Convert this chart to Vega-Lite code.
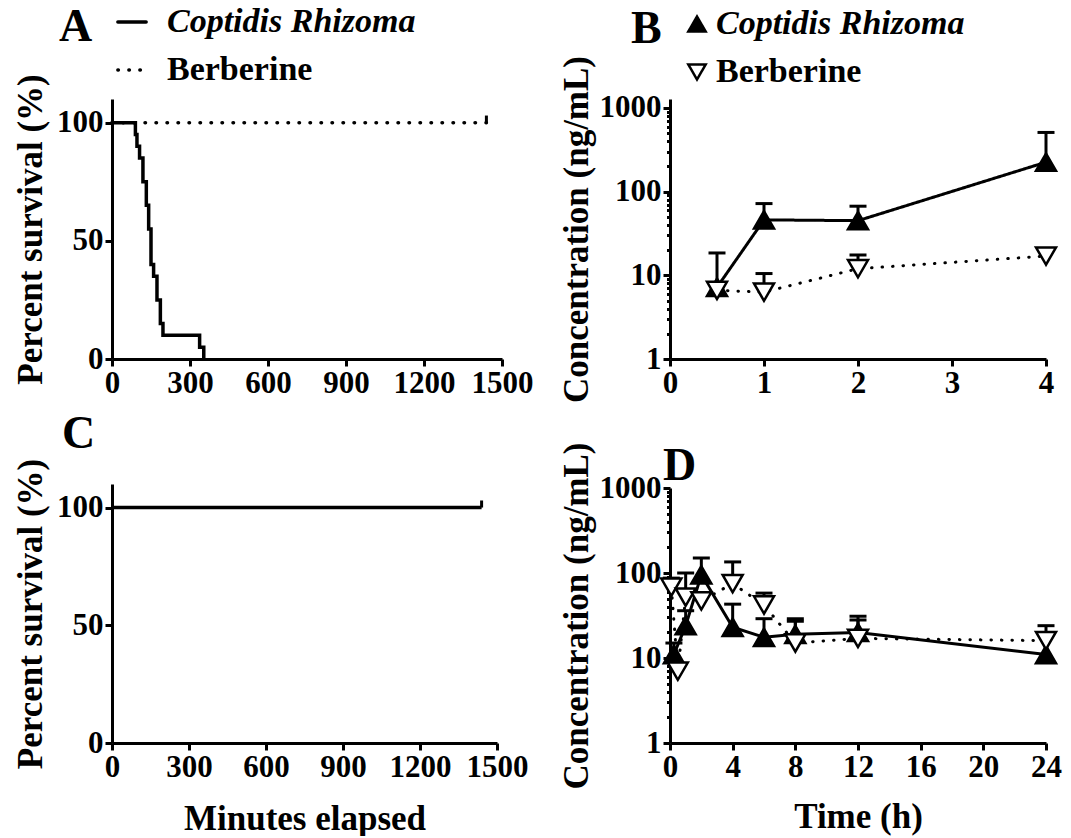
{
  "$schema": "https://vega.github.io/schema/vega-lite/v6.json",
  "background": "white",
  "padding": {"left": 13, "top": 5, "right": 5, "bottom": 0},
  "config": {
    "font": "Liberation Serif",
    "view": {"stroke": null},
    "axis": {
      "domainWidth": 3, "domainColor": "black", "tickWidth": 3, "tickColor": "black", "tickSize": 7,
      "labelColor": "black", "titleColor": "black", "labelFont": "Liberation Serif", "titleFont": "Liberation Serif",
      "labelFontWeight": "bold", "titleFontWeight": "bold", "labelFontSize": 31, "titleFontSize": 35,
      "grid": false, "labelPadding": 2, "titlePadding": 8, "labelFlush": false, "labelOverlap": false, "format": "d"
    },
    "legend": {
      "titleFont": "Liberation Serif", "titleFontWeight": "bold", "titleFontSize": 46, "titleColor": "black",
      "labelFont": "Liberation Serif", "labelFontWeight": "bold", "labelFontSize": 34, "labelColor": "black",
      "labelLimit": 500
    },
    "title": {"font": "Liberation Serif", "fontWeight": "bold", "fontSize": 46, "color": "black"}
  },
  "datasets": {
    "survA": [
      {"series": "Coptidis Rhizoma", "t": 0, "s": 100},
      {"series": "Coptidis Rhizoma", "t": 90, "s": 95},
      {"series": "Coptidis Rhizoma", "t": 96, "s": 90},
      {"series": "Coptidis Rhizoma", "t": 106, "s": 85},
      {"series": "Coptidis Rhizoma", "t": 119, "s": 75},
      {"series": "Coptidis Rhizoma", "t": 132, "s": 65},
      {"series": "Coptidis Rhizoma", "t": 141, "s": 55},
      {"series": "Coptidis Rhizoma", "t": 150, "s": 40},
      {"series": "Coptidis Rhizoma", "t": 160, "s": 35},
      {"series": "Coptidis Rhizoma", "t": 173, "s": 25},
      {"series": "Coptidis Rhizoma", "t": 186, "s": 15},
      {"series": "Coptidis Rhizoma", "t": 196, "s": 10},
      {"series": "Coptidis Rhizoma", "t": 337, "s": 5},
      {"series": "Coptidis Rhizoma", "t": 353, "s": 0},
      {"series": "Berberine", "t": 0, "s": 100},
      {"series": "Berberine", "t": 1440, "s": 100}
    ],
    "censorA": [{"series": "Berberine", "t": 1440, "s": 100, "s2": 103}],
    "survC": [{"t": 0, "s": 100}, {"t": 1440, "s": 100}],
    "censorC": [{"t": 1440, "s": 100, "s2": 103}],
    "pkB": [
      {"series": "Coptidis Rhizoma", "t": 0.5, "c": 7.2, "up": 18.5},
      {"series": "Coptidis Rhizoma", "t": 1, "c": 46, "up": 72},
      {"series": "Coptidis Rhizoma", "t": 2, "c": 45, "up": 67},
      {"series": "Coptidis Rhizoma", "t": 4, "c": 225, "up": 510},
      {"series": "Berberine", "t": 0.5, "c": 6.6, "up": null},
      {"series": "Berberine", "t": 1, "c": 6.3, "up": 10.5},
      {"series": "Berberine", "t": 2, "c": 12, "up": 17.5},
      {"series": "Berberine", "t": 4, "c": 17, "up": null}
    ],
    "pkD": [
      {"series": "Coptidis Rhizoma", "t": 0.25, "c": 11, "up": 15},
      {"series": "Coptidis Rhizoma", "t": 1, "c": 24, "up": 36},
      {"series": "Coptidis Rhizoma", "t": 2, "c": 95, "up": 150},
      {"series": "Coptidis Rhizoma", "t": 4, "c": 23, "up": 43},
      {"series": "Coptidis Rhizoma", "t": 6, "c": 17.5, "up": 29},
      {"series": "Coptidis Rhizoma", "t": 8, "c": 19, "up": 29},
      {"series": "Coptidis Rhizoma", "t": 12, "c": 20, "up": 31},
      {"series": "Coptidis Rhizoma", "t": 24, "c": 11, "up": null},
      {"series": "Berberine", "t": 0.083, "c": 68, "up": 87},
      {"series": "Berberine", "t": 0.5, "c": 7, "up": null},
      {"series": "Berberine", "t": 1, "c": 52, "up": 100},
      {"series": "Berberine", "t": 2, "c": 47, "up": null},
      {"series": "Berberine", "t": 4, "c": 75, "up": 135},
      {"series": "Berberine", "t": 6, "c": 42, "up": 58},
      {"series": "Berberine", "t": 8, "c": 15, "up": 27},
      {"series": "Berberine", "t": 12, "c": 17, "up": 28},
      {"series": "Berberine", "t": 24, "c": 16, "up": 24}
    ]
  },
  "spacing": 25,
  "resolve": {
    "scale": {"strokeDash": "independent"},
    "legend": {"strokeDash": "independent"}
  },
  "hconcat": [
    {
      "spacing": 13,
      "resolve": {"scale": {"strokeDash": "independent"}, "legend": {"strokeDash": "independent"}},
      "vconcat": [
        {
          "width": 390, "height": 260,
          "layer": [
            {
              "data": {"name": "survA"},
              "mark": {"type": "line", "interpolate": "step-after", "strokeWidth": 3.5, "color": "black", "strokeCap": "round"},
              "encoding": {
                "x": {"field": "t", "type": "quantitative", "scale": {"domain": [0, 1500], "nice": false}, "axis": {"values": [0, 300, 600, 900, 1200, 1500], "title": null}},
                "y": {"field": "s", "type": "quantitative", "scale": {"domain": [0, 110], "nice": false}, "axis": {"values": [0, 50, 100], "title": "Percent survival (%)"}},
                "strokeDash": {
                  "field": "series", "type": "nominal",
                  "scale": {"domain": ["Coptidis Rhizoma", "Berberine"], "range": [[1, 0], [0.5, 10.5]]},
                  "legend": {
                    "title": "A", "titleOrient": "left", "titleAnchor": "start", "titlePadding": 22,
                    "orient": "none", "legendX": -53, "legendY": -94, "direction": "vertical",
                    "symbolType": "stroke", "symbolSize": 800, "symbolStrokeWidth": 3.5, "symbolStrokeColor": "black",
                    "rowPadding": 14, "labelOffset": 18,
                    "encode": {
                      "labels": {"update": {"fontStyle": {"signal": "datum.label == 'Coptidis Rhizoma' ? 'italic' : 'normal'"}}},
                      "symbols": {"update": {"strokeCap": {"value": "round"}}}
                    }
                  }
                }
              }
            },
            {
              "data": {"name": "censorA"},
              "mark": {"type": "rule", "strokeWidth": 3, "color": "black"},
              "encoding": {
                "x": {"field": "t", "type": "quantitative", "scale": {"domain": [0, 1500], "nice": false}},
                "y": {"field": "s", "type": "quantitative", "scale": {"domain": [0, 110], "nice": false}},
                "y2": {"field": "s2"}
              }
            }
          ]
        },
        {
          "width": 385, "height": 259,
          "title": {"text": "C", "anchor": "start", "frame": "group", "dx": -50, "offset": 0},
          "layer": [
            {
              "data": {"name": "survC"},
              "mark": {"type": "line", "strokeWidth": 3.5, "color": "black"},
              "encoding": {
                "x": {"field": "t", "type": "quantitative", "scale": {"domain": [0, 1500], "nice": false}, "axis": {"values": [0, 300, 600, 900, 1200, 1500], "title": "Minutes elapsed", "titlePadding": 19}},
                "y": {"field": "s", "type": "quantitative", "scale": {"domain": [0, 110], "nice": false}, "axis": {"values": [0, 50, 100], "title": "Percent survival (%)"}}
              }
            },
            {
              "data": {"name": "censorC"},
              "mark": {"type": "rule", "strokeWidth": 3, "color": "black"},
              "encoding": {
                "x": {"field": "t", "type": "quantitative", "scale": {"domain": [0, 1500], "nice": false}},
                "y": {"field": "s", "type": "quantitative", "scale": {"domain": [0, 110], "nice": false}},
                "y2": {"field": "s2"}
              }
            }
          ]
        }
      ]
    },
    {
      "spacing": 38,
      "resolve": {"scale": {"strokeDash": "independent"}, "legend": {"strokeDash": "independent"}},
      "vconcat": [
        {
          "width": 376, "height": 260,
          "data": {"name": "pkB"},
          "layer": [
            {
              "transform": [{"filter": "isValid(datum.up)"}],
              "mark": {"type": "rule", "strokeWidth": 3, "color": "black"},
              "encoding": {
                "x": {"field": "t", "type": "quantitative", "scale": {"domain": [0, 4], "nice": false}, "axis": {"values": [0, 1, 2, 3, 4], "title": null}},
                "y": {"field": "c", "type": "quantitative", "scale": {"type": "log", "domain": [1, 1280], "nice": false},
                  "axis": {"values": [1, 2, 3, 4, 5, 6, 7, 8, 9, 10, 20, 30, 40, 50, 60, 70, 80, 90, 100, 200, 300, 400, 500, 600, 700, 800, 900, 1000],
                    "labelExpr": "indexof([1, 10, 100, 1000], datum.value) >= 0 ? datum.label : ''",
                    "tickDash": {"condition": {"test": "indexof([1, 10, 100, 1000], datum.value) < 0", "value": [3.5, 20]}, "value": [20, 0]},
                    "title": "Concentration (ng/mL)", "titlePadding": 5}},
                "y2": {"field": "up"}
              }
            },
            {
              "transform": [{"filter": "isValid(datum.up)"}],
              "mark": {"type": "tick", "orient": "horizontal", "size": 17, "thickness": 3, "color": "black", "opacity": 1},
              "encoding": {
                "x": {"field": "t", "type": "quantitative", "scale": {"domain": [0, 4], "nice": false}},
                "y": {"field": "up", "type": "quantitative", "scale": {"type": "log", "domain": [1, 1280], "nice": false}}
              }
            },
            {
              "transform": [{"filter": "datum.series == 'Coptidis Rhizoma'"}],
              "mark": {"type": "line", "strokeWidth": 3, "color": "black"},
              "encoding": {
                "x": {"field": "t", "type": "quantitative", "scale": {"domain": [0, 4], "nice": false}},
                "y": {"field": "c", "type": "quantitative", "scale": {"type": "log", "domain": [1, 1280], "nice": false}},
                "strokeDash": {"field": "series", "type": "nominal", "scale": {"domain": ["Coptidis Rhizoma", "Berberine"], "range": [[1, 0], [1, 0]]},
                  "legend": {
                    "title": "B", "titleOrient": "left", "titleAnchor": "start", "titlePadding": 18,
                    "orient": "none", "legendX": -39, "legendY": -92, "direction": "vertical",
                    "symbolType": "triangle-up", "symbolSize": 300, "symbolStrokeWidth": 2.5, "symbolStrokeColor": "black",
                    "rowPadding": 14, "labelOffset": 2,
                    "encode": {
                      "labels": {"update": {"fontStyle": {"signal": "datum.label == 'Coptidis Rhizoma' ? 'italic' : 'normal'"}}},
                      "symbols": {"update": {
                        "shape": {"signal": "datum.value == 'Coptidis Rhizoma' ? 'triangle-up' : 'triangle-down'"},
                        "fill": {"signal": "datum.value == 'Coptidis Rhizoma' ? 'black' : 'white'"},
                        "stroke": {"value": "black"}, "strokeWidth": {"value": 2.5}
                      }}
                    }
                  }}
              }
            },
            {
              "transform": [{"filter": "datum.series == 'Berberine'"}],
              "mark": {"type": "line", "strokeWidth": 3, "color": "black", "strokeCap": "round", "strokeDash": [0.5, 10]},
              "encoding": {
                "x": {"field": "t", "type": "quantitative", "scale": {"domain": [0, 4], "nice": false}},
                "y": {"field": "c", "type": "quantitative", "scale": {"type": "log", "domain": [1, 1280], "nice": false}}
              }
            },
            {
              "transform": [{"filter": "datum.series == 'Coptidis Rhizoma'"}],
              "mark": {"type": "point", "shape": "triangle-up", "filled": true, "fill": "black", "size": 400, "stroke": "black", "strokeWidth": 2.5, "opacity": 1},
              "encoding": {
                "x": {"field": "t", "type": "quantitative", "scale": {"domain": [0, 4], "nice": false}},
                "y": {"field": "c", "type": "quantitative", "scale": {"type": "log", "domain": [1, 1280], "nice": false}}
              }
            },
            {
              "transform": [{"filter": "datum.series == 'Berberine'"}],
              "mark": {"type": "point", "shape": "triangle-down", "filled": true, "fill": "white", "size": 400, "stroke": "black", "strokeWidth": 2.5, "opacity": 1},
              "encoding": {
                "x": {"field": "t", "type": "quantitative", "scale": {"domain": [0, 4], "nice": false}},
                "y": {"field": "c", "type": "quantitative", "scale": {"type": "log", "domain": [1, 1280], "nice": false}}
              }
            }
          ]
        },
        {
          "width": 376, "height": 255,
          "title": {"text": "D", "anchor": "start", "frame": "group", "dx": -7, "offset": -48},
          "data": {"name": "pkD"},
          "layer": [
            {
              "transform": [{"filter": "isValid(datum.up)"}],
              "mark": {"type": "rule", "strokeWidth": 3, "color": "black"},
              "encoding": {
                "x": {"field": "t", "type": "quantitative", "scale": {"domain": [0, 24], "nice": false}, "axis": {"values": [0, 4, 8, 12, 16, 20, 24], "title": "Time (h)", "titlePadding": 17}},
                "y": {"field": "c", "type": "quantitative", "scale": {"type": "log", "domain": [1, 1000], "nice": false},
                  "axis": {"values": [1, 2, 3, 4, 5, 6, 7, 8, 9, 10, 20, 30, 40, 50, 60, 70, 80, 90, 100, 200, 300, 400, 500, 600, 700, 800, 900, 1000],
                    "labelExpr": "indexof([1, 10, 100, 1000], datum.value) >= 0 ? datum.label : ''",
                    "tickDash": {"condition": {"test": "indexof([1, 10, 100, 1000], datum.value) < 0", "value": [3.5, 20]}, "value": [20, 0]},
                    "title": "Concentration (ng/mL)", "titlePadding": 5}},
                "y2": {"field": "up"}
              }
            },
            {
              "transform": [{"filter": "isValid(datum.up)"}],
              "mark": {"type": "tick", "orient": "horizontal", "size": 17, "thickness": 3, "color": "black", "opacity": 1},
              "encoding": {
                "x": {"field": "t", "type": "quantitative", "scale": {"domain": [0, 24], "nice": false}},
                "y": {"field": "up", "type": "quantitative", "scale": {"type": "log", "domain": [1, 1000], "nice": false}}
              }
            },
            {
              "transform": [{"filter": "datum.series == 'Coptidis Rhizoma'"}],
              "mark": {"type": "line", "strokeWidth": 3, "color": "black"},
              "encoding": {
                "x": {"field": "t", "type": "quantitative", "scale": {"domain": [0, 24], "nice": false}},
                "y": {"field": "c", "type": "quantitative", "scale": {"type": "log", "domain": [1, 1000], "nice": false}}
              }
            },
            {
              "transform": [{"filter": "datum.series == 'Berberine'"}],
              "mark": {"type": "line", "strokeWidth": 3, "color": "black", "strokeCap": "round", "strokeDash": [0.5, 10]},
              "encoding": {
                "x": {"field": "t", "type": "quantitative", "scale": {"domain": [0, 24], "nice": false}},
                "y": {"field": "c", "type": "quantitative", "scale": {"type": "log", "domain": [1, 1000], "nice": false}}
              }
            },
            {
              "transform": [{"filter": "datum.series == 'Coptidis Rhizoma'"}],
              "mark": {"type": "point", "shape": "triangle-up", "filled": true, "fill": "black", "size": 400, "stroke": "black", "strokeWidth": 2.5, "opacity": 1},
              "encoding": {
                "x": {"field": "t", "type": "quantitative", "scale": {"domain": [0, 24], "nice": false}},
                "y": {"field": "c", "type": "quantitative", "scale": {"type": "log", "domain": [1, 1000], "nice": false}}
              }
            },
            {
              "transform": [{"filter": "datum.series == 'Berberine'"}],
              "mark": {"type": "point", "shape": "triangle-down", "filled": true, "fill": "white", "size": 400, "stroke": "black", "strokeWidth": 2.5, "opacity": 1},
              "encoding": {
                "x": {"field": "t", "type": "quantitative", "scale": {"domain": [0, 24], "nice": false}},
                "y": {"field": "c", "type": "quantitative", "scale": {"type": "log", "domain": [1, 1000], "nice": false}}
              }
            }
          ]
        }
      ]
    }
  ]
}
